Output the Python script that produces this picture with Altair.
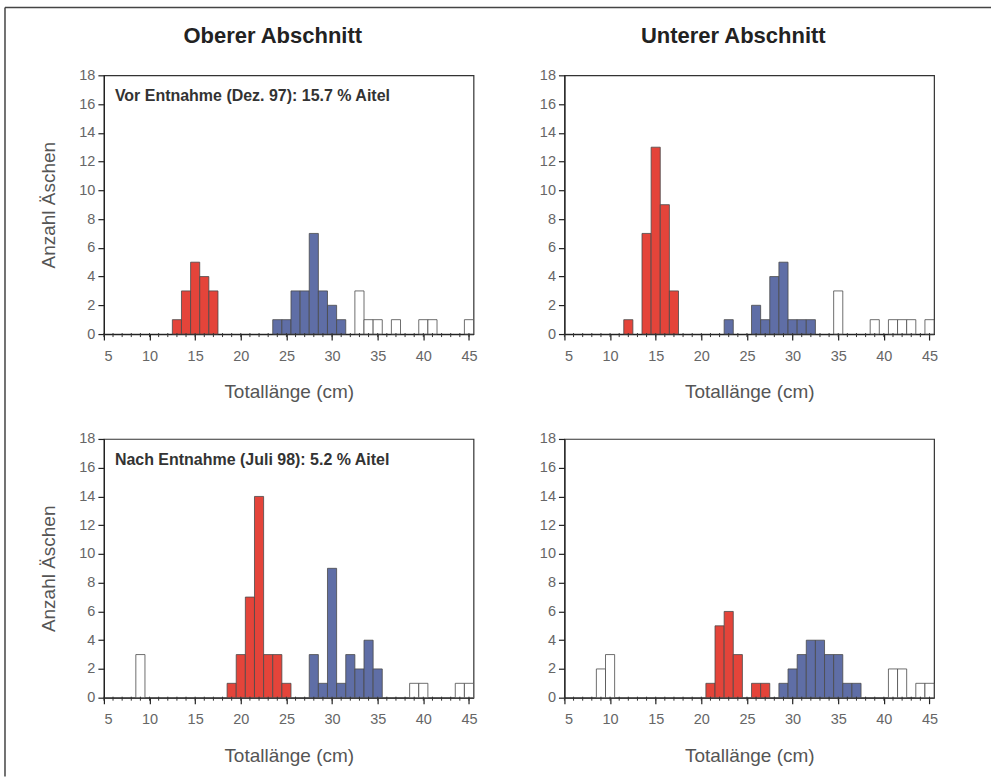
import altair as alt
import pandas as pd

# Längenklassen (cm, Klassenmitte) und Anzahl Äschen je Klasse
ob_vor_rot_len = [13, 14, 15, 16, 17]
ob_vor_rot_n = [1, 3, 5, 4, 3]
ob_vor_blau_len = [24, 25, 26, 27, 28, 29, 30, 31]
ob_vor_blau_n = [1, 1, 3, 3, 7, 3, 2, 1]
ob_vor_weiss_len = [33, 34, 35, 37, 40, 41, 45]
ob_vor_weiss_n = [3, 1, 1, 1, 1, 1, 1]

un_vor_rot_len = [12, 14, 15, 16, 17]
un_vor_rot_n = [1, 7, 13, 9, 3]
un_vor_blau_len = [23, 26, 27, 28, 29, 30, 31, 32]
un_vor_blau_n = [1, 2, 1, 4, 5, 1, 1, 1]
un_vor_weiss_len = [35, 39, 41, 42, 43, 45]
un_vor_weiss_n = [3, 1, 1, 1, 1, 1]

ob_nach_rot_len = [19, 20, 21, 22, 23, 24, 25]
ob_nach_rot_n = [1, 3, 7, 14, 3, 3, 1]
ob_nach_blau_len = [28, 29, 30, 31, 32, 33, 34, 35]
ob_nach_blau_n = [3, 1, 9, 1, 3, 2, 4, 2]
ob_nach_weiss_len = [9, 39, 40, 44, 45]
ob_nach_weiss_n = [3, 1, 1, 1, 1]

un_nach_rot_len = [21, 22, 23, 24, 26, 27]
un_nach_rot_n = [1, 5, 6, 3, 1, 1]
un_nach_blau_len = [29, 30, 31, 32, 33, 34, 35, 36, 37]
un_nach_blau_n = [1, 2, 3, 4, 4, 3, 3, 1, 1]
un_nach_weiss_len = [9, 10, 41, 42, 44, 45]
un_nach_weiss_n = [2, 3, 2, 2, 1, 1]

x_ticks = [5, 10, 15, 20, 25, 30, 35, 40, 45]
x_minor = list(range(5, 46))
y_ticks = [0, 2, 4, 6, 8, 10, 12, 14, 16, 18]

series_names = ["rot", "blau", "weiss"]
series_fill = ["#e4443a", "#5f6ea6", "#ffffff"]

FONT = "Liberation Sans"
W, H = 370, 259
X_TITLE = "Totallänge (cm)"


def table(groups):
    rows = []
    for name, lens, counts in groups:
        for l, n in zip(lens, counts):
            rows.append({"serie": name, "laenge": l, "x0": l - 0.5, "x1": l + 0.5, "n": n})
    return pd.DataFrame(rows)


def x_axis():
    return alt.Axis(values=x_ticks, title=X_TITLE, grid=False)


def panel(groups, title=None, ytitle=None, note=None, frame=False):
    data = table(groups)
    xscale = alt.Scale(domain=[5, 45.5], nice=False, zero=False)
    yscale = alt.Scale(domain=[0, 18], nice=False)
    bars = alt.Chart(data).mark_rect(stroke="#4a4a4a", strokeWidth=0.8).encode(
        x=alt.X("x0:Q", scale=xscale, axis=x_axis()),
        x2="x1:Q",
        y=alt.Y("n:Q", scale=yscale,
                axis=alt.Axis(values=y_ticks, title=ytitle if ytitle else "", grid=False)),
        y2=alt.datum(0),
        fill=alt.Fill("serie:N", scale=alt.Scale(domain=series_names, range=series_fill),
                      legend=None),
    )
    # kleine Teilstriche je Zentimeter
    minor = alt.Chart(pd.DataFrame({"t": x_minor})).mark_rule(
        color="#333", strokeWidth=1
    ).encode(
        x=alt.X("t:Q", scale=xscale, axis=x_axis()),
        y=alt.value(H - 1),
        y2=alt.value(H + 3),
    )
    layers = [bars, minor]
    if note:
        layers.append(
            alt.Chart(pd.DataFrame({"txt": [note]})).mark_text(
                align="left", baseline="middle", font=FONT, fontSize=16,
                fontWeight="bold", color="#333"
            ).encode(x=alt.value(11), y=alt.value(21), text="txt:N")
        )
    if frame:
        # Rahmenlinien links und oben um die gesamte Abbildung
        top = 6 - 438
        layers.append(
            alt.Chart(pd.DataFrame({"k": [0]})).mark_rule(color="#444", strokeWidth=1.5).encode(
                x=alt.value(-99), y=alt.value(top), y2=alt.value(338)
            )
        )
        layers.append(
            alt.Chart(pd.DataFrame({"k": [0]})).mark_rule(color="#444", strokeWidth=1.5).encode(
                x=alt.value(-99), x2=alt.value(888), y=alt.value(top)
            )
        )
    ch = alt.layer(*layers).properties(width=W, height=H)
    if title:
        ch = ch.properties(
            title=alt.TitleParams(title, font=FONT, fontSize=22, fontWeight="bold",
                                  color="#222", anchor="middle", dx=-16, offset=19)
        )
    return ch


p1 = panel(
    [("rot", ob_vor_rot_len, ob_vor_rot_n), ("blau", ob_vor_blau_len, ob_vor_blau_n),
     ("weiss", ob_vor_weiss_len, ob_vor_weiss_n)],
    title="Oberer Abschnitt", ytitle="Anzahl Äschen",
    note="Vor Entnahme (Dez. 97): 15.7 % Aitel",
)
p2 = panel(
    [("rot", un_vor_rot_len, un_vor_rot_n), ("blau", un_vor_blau_len, un_vor_blau_n),
     ("weiss", un_vor_weiss_len, un_vor_weiss_n)],
    title="Unterer Abschnitt",
)
p3 = panel(
    [("rot", ob_nach_rot_len, ob_nach_rot_n), ("blau", ob_nach_blau_len, ob_nach_blau_n),
     ("weiss", ob_nach_weiss_len, ob_nach_weiss_n)],
    ytitle="Anzahl Äschen",
    note="Nach Entnahme (Juli 98): 5.2 % Aitel", frame=True,
)
p4 = panel(
    [("rot", un_nach_rot_len, un_nach_rot_n), ("blau", un_nach_blau_len, un_nach_blau_n),
     ("weiss", un_nach_weiss_len, un_nach_weiss_n)],
)

chart = alt.concat(
    p1, p2, p3, p4, columns=2, spacing={"row": 105, "column": 91}, bounds="flush"
).properties(
    padding={"left": 3, "top": 5, "right": 0, "bottom": 0},
    background="white",
).configure_view(
    stroke="#333", strokeWidth=1.2
).configure_axis(
    domainColor="#222", domainWidth=1.2, tickColor="#222", tickWidth=1.2,
    labelFont=FONT, labelFontSize=14.5, labelColor="#666",
    titleFont=FONT, titleFontSize=19, titleColor="#555", titleFontWeight="normal",
).configure_axisX(
    tickSize=6, labelPadding=9, titlePadding=20,
).configure_axisY(
    tickSize=6, labelPadding=3, titlePadding=20,
)

chart.save("out.html", embed_options={"renderer": "svg", "actions": False})
